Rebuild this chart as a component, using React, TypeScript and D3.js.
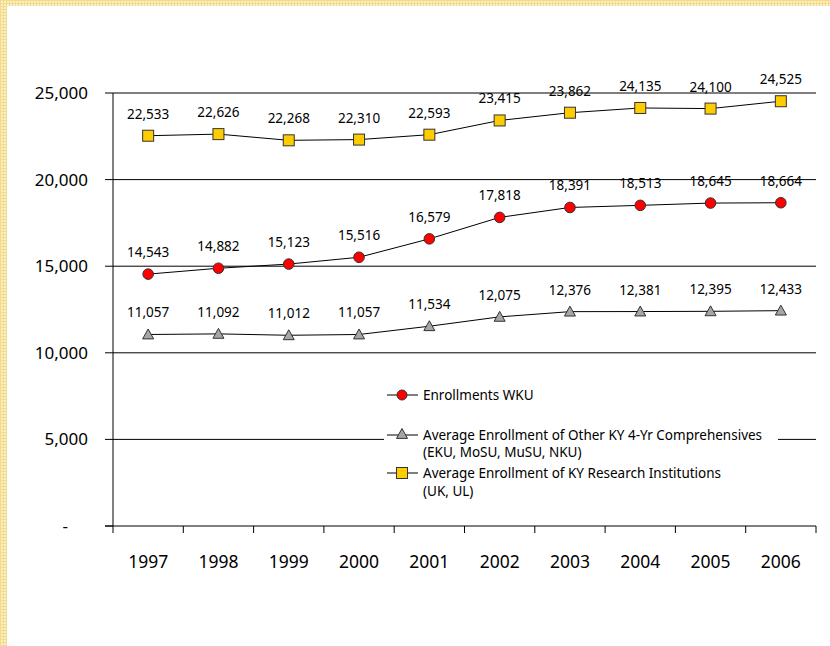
import React from "react";
import * as d3 from "d3";

const years = ["1997", "1998", "1999", "2000", "2001", "2002", "2003", "2004", "2005", "2006"];
const wku = [14543, 14882, 15123, 15516, 16579, 17818, 18391, 18513, 18645, 18664];
const comprehensives = [11057, 11092, 11012, 11057, 11534, 12075, 12376, 12381, 12395, 12433];
const research = [22533, 22626, 22268, 22310, 22593, 23415, 23862, 24135, 24100, 24525];
const yTicks = [0, 5000, 10000, 15000, 20000, 25000];

const W = 830, H = 646;
const left = 113, right = 816, top = 93, bottom = 526;

export default function App() {
  const x = d3.scaleBand<string>().domain(years).range([left, right]);
  const y = d3.scaleLinear().domain([0, 25000]).range([bottom, top]);
  const cx = (yr: string) => (x(yr) as number) + x.bandwidth() / 2;
  const line = d3.line<number>().x((_, i) => cx(years[i])).y((v) => y(v));
  const fmt = d3.format(",");
  const font = "'Noto Sans', sans-serif";
  const lblFont = "'Noto Sans', sans-serif";

  const tri = (px: number, py: number) => {
    const s = 5.5;
    return `M${px},${py - s}L${px + s},${py + s * 0.8}L${px - s},${py + s * 0.8}Z`;
  };

  return (
    <svg width={W} height={H} style={{ position: "absolute", left: 0, top: 0 }}>
      <defs>
        <pattern id="bg" width="3" height="3" patternUnits="userSpaceOnUse">
          <rect width="3" height="3" fill="#FBEFC4" />
          <path d="M0,0.5H3M0.5,0V3" stroke="#F3DB8E" strokeWidth="1" />
        </pattern>
      </defs>
      <rect width={W} height={H} fill="white" />
      <rect x={0} y={0} width={W} height={6} fill="url(#bg)" />
      <rect x={0} y={0} width={7} height={H} fill="url(#bg)" />

      {/* gridlines */}
      {yTicks.filter((t) => t > 0).map((t) => (
        <line key={t} x1={left} x2={right} y1={y(t)} y2={y(t)} stroke="#000" strokeWidth={1} />
      ))}
      {/* y axis */}
      <line x1={left} x2={left} y1={top} y2={bottom} stroke="#000" />
      {yTicks.map((t) => (
        <g key={t}>
          <line x1={left - 8} x2={left} y1={y(t)} y2={y(t)} stroke="#000" />
          <text
            x={t === 0 ? 68 : 88}
            y={y(t)}
            dy="0.35em"
            textAnchor="end"
            fontFamily={font}
            fontSize={17}
          >
            {t === 0 ? "-" : fmt(t)}
          </text>
        </g>
      ))}
      {/* x axis */}
      <line x1={left - 8} x2={right} y1={bottom} y2={bottom} stroke="#000" />
      {years.map((yr) => (
        <line key={yr} x1={x(yr)} x2={x(yr)} y1={bottom} y2={bottom + 7} stroke="#000" />
      ))}
      <line x1={right} x2={right} y1={bottom} y2={bottom + 7} stroke="#000" />
      {years.map((yr) => (
        <text key={yr} x={cx(yr)} y={562} dy="0.35em" textAnchor="middle" fontFamily={font} fontSize={17.5}>
          {yr}
        </text>
      ))}

      {/* series lines */}
      <path d={line(research) as string} fill="none" stroke="#000" strokeWidth={1} />
      <path d={line(wku) as string} fill="none" stroke="#000" strokeWidth={1} />
      <path d={line(comprehensives) as string} fill="none" stroke="#000" strokeWidth={1} />

      {research.map((v, i) => (
        <g key={"r" + i}>
          <rect x={cx(years[i]) - 5.5} y={y(v) - 5.5} width={11} height={11} fill="#FFCC00" stroke="#333" strokeWidth={1} />
          <text x={cx(years[i])} y={y(v) - 17} textAnchor="middle" fontFamily={lblFont} fontSize={13.5}>
            {fmt(v)}
          </text>
        </g>
      ))}
      {wku.map((v, i) => (
        <g key={"w" + i}>
          <circle cx={cx(years[i])} cy={y(v)} r={5.3} fill="#FF0000" stroke="#333" strokeWidth={1} />
          <text x={cx(years[i])} y={y(v) - 17} textAnchor="middle" fontFamily={lblFont} fontSize={13.5}>
            {fmt(v)}
          </text>
        </g>
      ))}
      {comprehensives.map((v, i) => (
        <g key={"c" + i}>
          <path d={tri(cx(years[i]), y(v))} fill="#A6A6A6" stroke="#333" strokeWidth={1} />
          <text x={cx(years[i])} y={y(v) - 17} textAnchor="middle" fontFamily={lblFont} fontSize={13.5}>
            {fmt(v)}
          </text>
        </g>
      ))}

      {/* legend */}
      <rect x={384} y={380} width={394} height={122} fill="white" />
      <g fontFamily={font} fontSize={13.5}>
        <line x1={387} x2={418} y1={395} y2={395} stroke="#000" />
        <circle cx={402} cy={395} r={5} fill="#FF0000" stroke="#333" />
        <text x={423} y={395} dy="0.35em">Enrollments WKU</text>

        <line x1={387} x2={418} y1={435} y2={435} stroke="#000" />
        <path d={tri(402, 434)} fill="#A6A6A6" stroke="#333" />
        <text x={423} y={435} dy="0.35em">Average Enrollment of Other KY 4-Yr Comprehensives</text>
        <text x={423} y={452} dy="0.35em">(EKU, MoSU, MuSU, NKU)</text>

        <line x1={387} x2={418} y1={473} y2={473} stroke="#000" />
        <rect x={396.5} y={467.5} width={11} height={11} fill="#FFCC00" stroke="#333" />
        <text x={423} y={473} dy="0.35em">Average Enrollment of KY Research Institutions</text>
        <text x={423} y={491} dy="0.35em">(UK, UL)</text>
      </g>
    </svg>
  );
}
